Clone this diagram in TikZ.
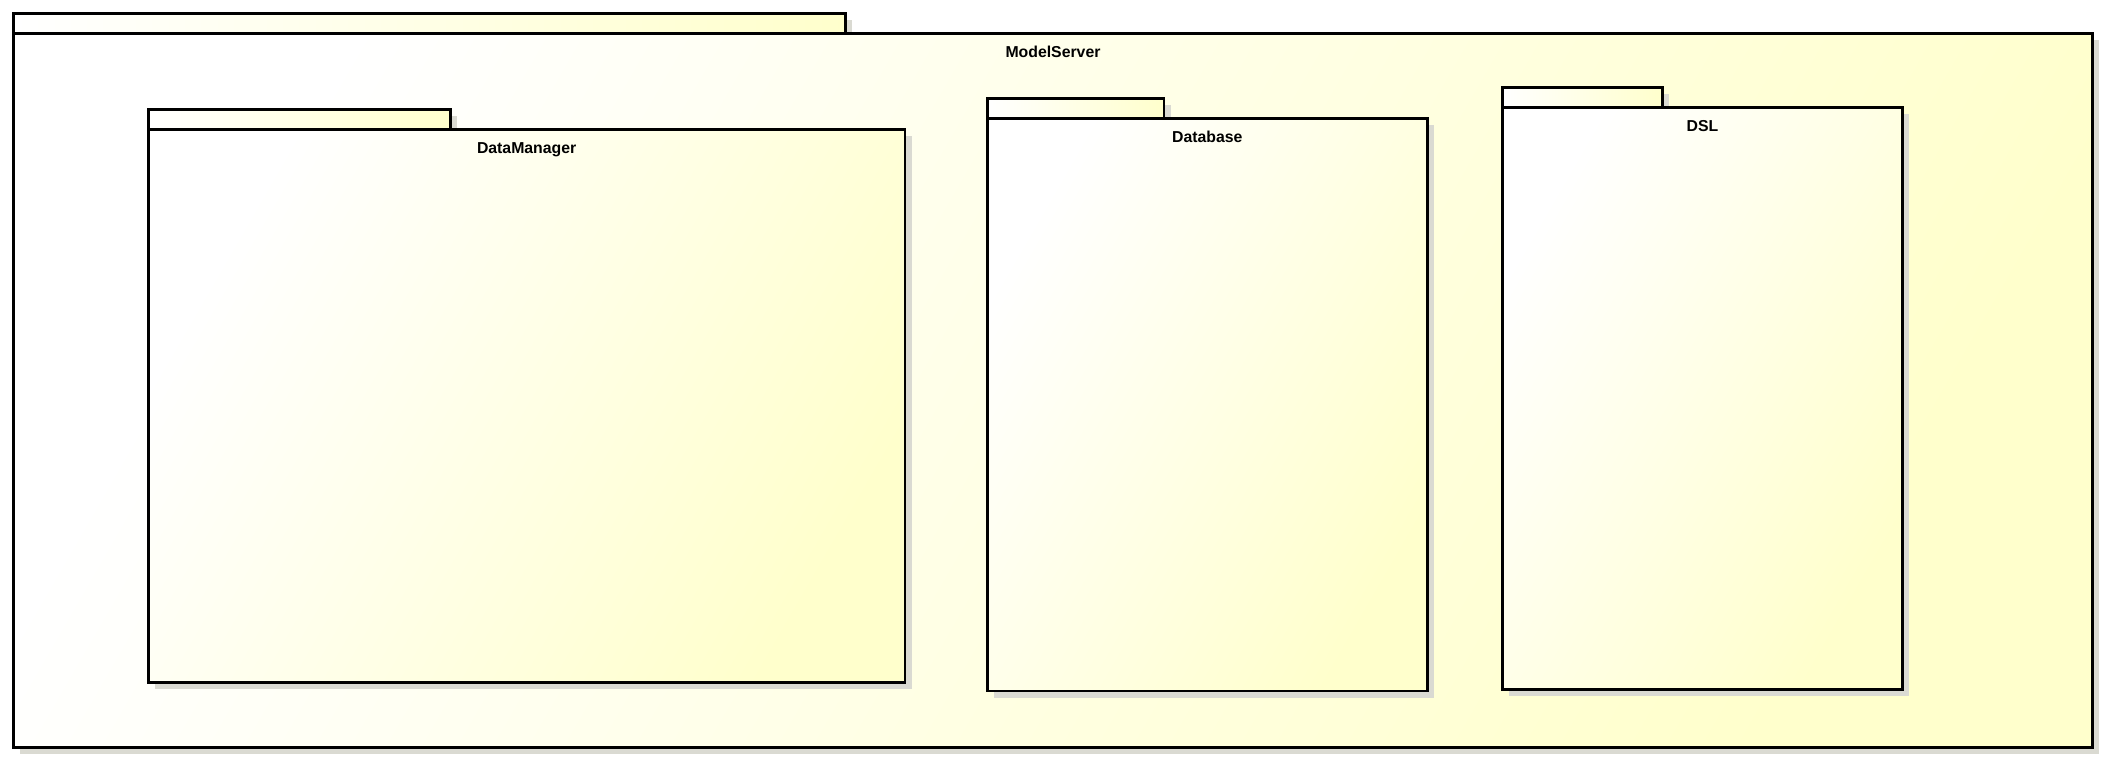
\documentclass[tikz,border=0pt]{standalone}
\usepackage{fontspec}
\setmainfont{Liberation Sans}
\usetikzlibrary{positioning,shadows}
\definecolor{pkgyellow}{RGB}{255,255,204}
\definecolor{pkgshadow}{RGB}{218,218,210}

\begin{document}
\begin{tikzpicture}[
  pkgshade/.style={drop shadow={shadow xshift=0.065cm,shadow yshift=-0.065cm,fill=pkgshadow,opacity=1}},
  pkgbody/.style={draw=black,line width=0.75pt,inner sep=0pt,outer sep=0pt,anchor=north west,top color=white,bottom color=pkgyellow,shading angle=60,pkgshade},
  pkgtab/.style={draw=black,line width=0.75pt,inner sep=0pt,outer sep=0pt,anchor=south west,minimum height=0.2cm,left color=white,right color=pkgyellow,pkgshade},
  pkgtitle/.style={anchor=base,inner sep=0pt,font=\bfseries\fontsize{4.5}{5}\selectfont}
]
\useasboundingbox (0,0) rectangle (21.05,-7.60);
% ModelServer
\coordinate (mscorner) at (0.133,-0.333);
\node[pkgtab,minimum width=8.324cm] (mstab) at (mscorner) {};
\node[pkgbody,minimum width=20.794cm,minimum height=7.14cm] (ms) at (mscorner) {};
\node[pkgtitle] (mstitle) at ([yshift=-0.24cm]ms.north) {ModelServer};
% DataManager
\coordinate (dmcorner) at (1.483,-1.293);
\node[pkgtab,minimum width=3.024cm] (dmtab) at (dmcorner) {};
\node[pkgbody,minimum width=7.567cm,minimum height=5.53cm] (dm) at (dmcorner) {};
\node[pkgtitle] (dmtitle) at ([yshift=-0.24cm]dm.north) {DataManager};
% Database
\coordinate (dbcorner) at (9.873,-1.183);
\node[pkgtab,minimum width=1.767cm] (dbtab) at (dbcorner) {};
\node[pkgbody,minimum width=4.40cm,minimum height=5.727cm] (db) at (dbcorner) {};
\node[pkgtitle] (dbtitle) at ([yshift=-0.24cm]db.north) {Database};
% DSL
\coordinate (dslcorner) at (15.025,-1.077);
\node[pkgtab,minimum width=1.602cm] (dsltab) at (dslcorner) {};
\node[pkgbody,minimum width=3.998cm,minimum height=5.816cm] (dsl) at (dslcorner) {};
\node[pkgtitle] (dsltitle) at ([yshift=-0.24cm]dsl.north) {DSL};
\end{tikzpicture}
\end{document}
